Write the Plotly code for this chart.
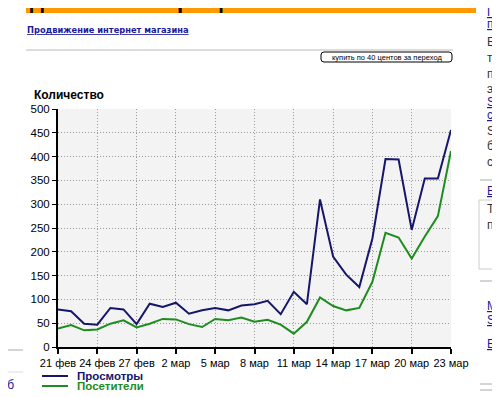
import plotly.graph_objects as go
import pandas as pd

# ---- data ----
dates = [d.strftime("%Y-%m-%d") for d in pd.date_range("2009-02-21", "2009-03-23", freq="D")]
views = [79, 75, 49, 47, 82, 79, 48, 91, 84, 93, 70, 77, 82, 77, 87, 90,
         97, 69, 116, 90, 310, 190, 152, 126, 228, 395, 394, 246, 354, 354, 456]
visitors = [39, 46, 35, 37, 49, 56, 41, 49, 59, 58, 48, 42, 59, 56, 62, 53,
            57, 47, 28, 53, 104, 86, 77, 82, 137, 240, 230, 186, 232, 275, 412]
tick_dates = dates[::3]
tick_labels = ["21 фев", "24 фев", "27 фев", "2 мар", "5 мар", "8 мар",
               "11 мар", "14 мар", "17 мар", "20 мар", "23 мар"]
y_ticks = [0, 50, 100, 150, 200, 250, 300, 350, 400, 450, 500]
series_names = ["Просмотры", "Посетители"]
y_title = "Количество"

NAVY = "#16166a"
GREEN = "#1e8c1e"

# the page body has an 8px margin; lay out in window pixels and shift
OFF = 8
W, H = 500 - OFF, 397 - OFF
PX0, PX1, PY0, PY1 = 58, 451, 109, 347   # plot area in window pixels
L, T = PX0 - OFF, PY0 - OFF
R, B = W - (PX1 - OFF), H - (PY1 - OFF)
PW, PH = W - L - R, H - T - B


def px(x):
    return (x - OFF - L) / PW


def py(y):
    return (H - B - (y - OFF)) / PH


fig = go.Figure()
fig.add_trace(go.Scatter(x=dates, y=views, mode="lines", name=series_names[0],
                         line=dict(color=NAVY, width=2)))
fig.add_trace(go.Scatter(x=dates, y=visitors, mode="lines", name=series_names[1],
                         line=dict(color=GREEN, width=2)))

yfont = dict(family="Liberation Sans, Arial, sans-serif", size=11.5, color="#000")
xfont = dict(family="Liberation Sans, Arial, sans-serif", size=11, color="#000")

fig.update_layout(
    width=W, height=H,
    margin=dict(l=L, r=R, t=T, b=B, pad=0),
    paper_bgcolor="white",
    plot_bgcolor="#f3f3f3",
    showlegend=False,
    font=yfont,
    xaxis=dict(
        type="date", range=[dates[0], dates[-1]],
        tickvals=tick_dates, ticktext=tick_labels, tickangle=0,
        showgrid=True, gridcolor="#9a9a9a", griddash="1px,2px", gridwidth=1,
        showline=True, linecolor="#000", linewidth=1.5,
        ticks="outside", ticklen=5, tickcolor="#000", tickwidth=1.5,
        tickfont=xfont, zeroline=False, fixedrange=True,
    ),
    yaxis=dict(
        range=[0, 500], tickvals=y_ticks,
        showgrid=True, gridcolor="#9a9a9a", griddash="1px,2px", gridwidth=1,
        showline=True, linecolor="#000", linewidth=2,
        ticks="outside", ticklen=4, tickcolor="#000", tickwidth=1,
        tickfont=yfont, zeroline=False, fixedrange=True,
    ),
)

shapes = []
ann = []

# ---- page decoration ----
shapes.append(dict(type="rect", xref="paper", yref="paper",
                   x0=px(26), x1=px(476), y0=py(13), y1=py(-2),
                   fillcolor="#ff9900", line=dict(width=0), layer="below"))
ann.append(dict(text="<b>делает SEO проще.</b>", xref="paper", yref="paper",
                x=px(28), y=py(0), xanchor="left", yanchor="middle",
                showarrow=False, font=dict(family="Liberation Sans, Arial", size=22, color="#000")))
ann.append(dict(text="Продвижение интернет магазина", xref="paper", yref="paper",
                x=px(25), y=py(30), xanchor="left", yanchor="middle", showarrow=False,
                font=dict(family="DejaVu Sans, Verdana", size=8.3, color="#1a1a9a",
                          weight="bold", lineposition="under")))
shapes.append(dict(type="line", xref="paper", yref="paper",
                   x0=px(26), x1=px(453), y0=py(50), y1=py(50),
                   line=dict(color="#d0d0d0", width=1.5)))
bx0, bx1, by0, by1, r = 321, 452, 52, 62, 3
path = (f"M {px(bx0 + r)} {py(by0)} L {px(bx1 - r)} {py(by0)} "
        f"Q {px(bx1)} {py(by0)} {px(bx1)} {py(by0 + r)} L {px(bx1)} {py(by1 - r)} "
        f"Q {px(bx1)} {py(by1)} {px(bx1 - r)} {py(by1)} L {px(bx0 + r)} {py(by1)} "
        f"Q {px(bx0)} {py(by1)} {px(bx0)} {py(by1 - r)} L {px(bx0)} {py(by0 + r)} "
        f"Q {px(bx0)} {py(by0)} {px(bx0 + r)} {py(by0)} Z")
shapes.append(dict(type="path", xref="paper", yref="paper", path=path,
                   fillcolor="white", line=dict(color="#000", width=1)))
ann.append(dict(text="купить по 40 центов за переход", xref="paper", yref="paper",
                x=px(386.5), y=py(57), xanchor="center", yanchor="middle", showarrow=False,
                font=dict(family="Liberation Sans, Arial", size=7.5, color="#000")))

ann.append(dict(text="<b>" + y_title + "</b>", xref="paper", yref="paper",
                x=px(32), y=py(95), xanchor="left", yanchor="middle", showarrow=False,
                font=dict(family="Liberation Sans, Arial", size=12, color="#000")))

leg = [(series_names[0], NAVY, 376), (series_names[1], GREEN, 386)]
for name, col, yy in leg:
    shapes.append(dict(type="line", xref="paper", yref="paper",
                       x0=px(42), x1=px(68), y0=py(yy), y1=py(yy),
                       line=dict(color=col, width=2)))
    ann.append(dict(text="<b>" + name + "</b>", xref="paper", yref="paper",
                    x=px(75), y=py(yy), xanchor="left", yanchor="middle", showarrow=False,
                    font=dict(family="Liberation Sans, Arial", size=11.5, color=col)))

shapes.append(dict(type="line", xref="paper", yref="paper",
                   x0=px(0), x1=px(23), y0=py(350), y1=py(350),
                   line=dict(color="#aaaaaa", width=1)))
shapes.append(dict(type="line", xref="paper", yref="paper",
                   x0=px(0), x1=px(23), y0=py(372), y1=py(372),
                   line=dict(color="#dddddd", width=1)))
ann.append(dict(text="уб", xref="paper", yref="paper", x=px(-1), y=py(385),
                xanchor="left", yanchor="middle", showarrow=False,
                font=dict(family="Liberation Sans, Arial", size=12, color="#1a1a9a")))

side = [
    ("Пр", 12, "#1a1a9a", True),
    ("по", 24, "#1a1a9a", True),
    ("Бе", 42, "#333", False),
    ("то.", 58, "#333", False),
    ("по", 74, "#333", False),
    ("эф", 89, "#333", False),
    ("SA", 102, "#1a1a9a", True),
    ("сс", 115, "#1a1a9a", True),
    ("SA", 131, "#333", False),
    ("би", 146, "#333", False),
    ("са", 162, "#333", False),
    ("Вк", 191, "#1a1a9a", True),
    ("Те", 209, "#333", False),
    ("пр", 225, "#333", False),
    ("Мы з", 306, "#1a1a9a", True),
    ("SeoH", 320, "#1a1a9a", True),
    ("Вы е", 344, "#1a1a9a", True),
]
for txt, yy, col, link in side:
    f = dict(family="Liberation Sans, Arial", size=12, color=col)
    if link:
        f["lineposition"] = "under"
    ann.append(dict(text=txt, xref="paper", yref="paper", x=px(485), y=py(yy),
                    xanchor="left", yanchor="middle", showarrow=False, font=f))
for yy in (180, 281, 384, 390):
    shapes.append(dict(type="line", xref="paper", yref="paper",
                       x0=px(480), x1=px(500), y0=py(yy), y1=py(yy),
                       line=dict(color="#aaaaaa", width=1)))
shapes.append(dict(type="path", xref="paper", yref="paper",
                   path=f"M {px(501)} {py(200)} L {px(479)} {py(200)} L {px(479)} {py(269)} L {px(501)} {py(269)}",
                   line=dict(color="#cccccc", width=1)))

fig.update_layout(shapes=shapes, annotations=ann)
fig.write_html("out.html")
